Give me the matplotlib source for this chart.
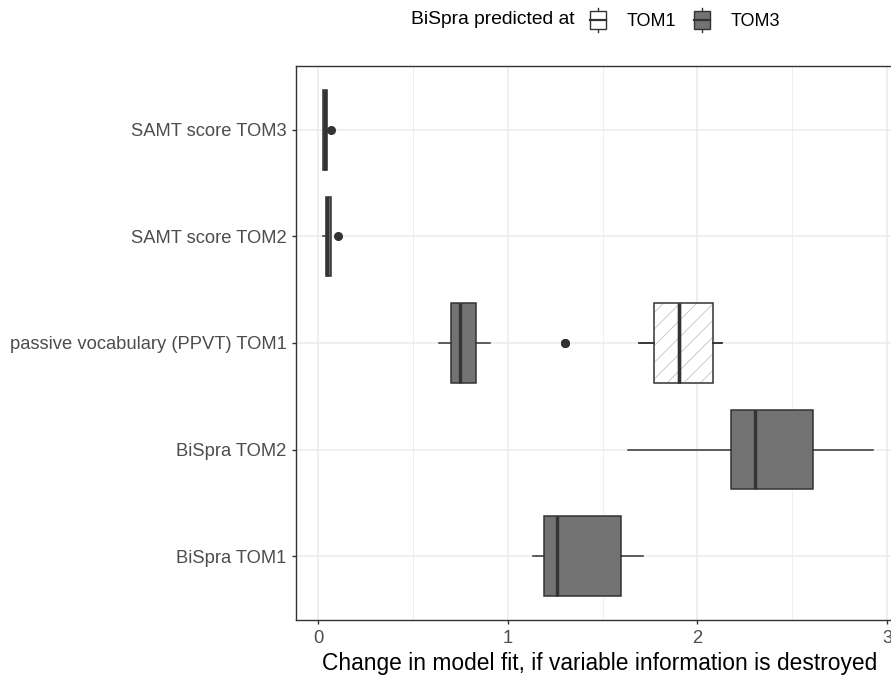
import numpy as np
import matplotlib
matplotlib.use('Agg')
import matplotlib.pyplot as plt
from matplotlib.legend_handler import HandlerBase
from matplotlib.patches import Rectangle, Patch
from matplotlib.lines import Line2D

plt.rcParams['font.family'] = ['Liberation Sans', 'DejaVu Sans']
plt.rcParams['hatch.linewidth'] = 0.55

# data
categories = ['BiSpra TOM1', 'BiSpra TOM2', 'passive vocabulary (PPVT) TOM1',
              'SAMT score TOM2', 'SAMT score TOM3']

# predicted at TOM3 (dark boxes), one per category
tom3_pos = [1, 2, 3, 4, 5]
tom3_whislo = [1.135, 1.636, 0.640, 0.028, 0.027]
tom3_q1 = [1.190, 2.175, 0.701, 0.042, 0.028]
tom3_med = [1.258, 2.304, 0.749, 0.050, 0.036]
tom3_q3 = [1.597, 2.609, 0.831, 0.066, 0.049]
tom3_whishi = [1.715, 2.924, 0.907, 0.070, 0.050]
tom3_fliers = [[], [], [], [0.103], [0.067]]

# predicted at TOM1 (hatched box), only the PPVT row
tom1_pos = [3]
tom1_whislo = [1.692]
tom1_q1 = [1.773]
tom1_med = [1.901]
tom1_q3 = [2.081]
tom1_whishi = [2.128]
tom1_fliers = [[1.302]]

x_ticks = [0, 1, 2, 3]
x_minor = [0.5, 1.5, 2.5]

DARK = '#737373'
LINE = '#333333'


def make_stats(lo, q1, med, q3, hi, fl):
    out = []
    for i in range(len(med)):
        out.append({'whislo': lo[i], 'q1': q1[i], 'med': med[i], 'q3': q3[i],
                    'whishi': hi[i], 'fliers': fl[i]})
    return out


class BoxKey(HandlerBase):
    def __init__(self, face):
        super().__init__()
        self.face = face

    def create_artists(self, legend, orig_handle, xdescent, ydescent,
                       width, height, fontsize, trans):
        x0 = -xdescent
        y0 = -ydescent
        bw = width * 0.9
        bh = height * 0.71
        bx = x0 + (width - bw) / 2
        by = y0 + (height - bh) / 2
        cx = x0 + width / 2
        cy = y0 + height / 2
        vl = Line2D([cx, cx], [y0, y0 + height], color=LINE, lw=1.0, transform=trans)
        r = Rectangle((bx, by), bw, bh, facecolor=self.face, edgecolor=LINE,
                      lw=1.0, transform=trans)
        hl = Line2D([bx, bx + bw], [cy, cy], color=LINE, lw=1.6, transform=trans)
        return [vl, r, hl]


fig = plt.figure(figsize=(8.91, 6.77), dpi=100)
ax = fig.add_axes([296 / 891, 57 / 677, 608 / 891, 554 / 677])

common = dict(orientation='horizontal', widths=0.75, showcaps=False,
              patch_artist=True, manage_ticks=False,
              whiskerprops=dict(color=LINE, lw=1.1),
              medianprops=dict(color=LINE, lw=2.4),
              flierprops=dict(marker='o', markerfacecolor=LINE,
                              markeredgecolor=LINE, markersize=5.5))

s3 = make_stats(tom3_whislo, tom3_q1, tom3_med, tom3_q3, tom3_whishi, tom3_fliers)
ax.bxp(s3, positions=tom3_pos,
       boxprops=dict(facecolor=DARK, edgecolor=LINE, lw=1.1), **common)

s1 = make_stats(tom1_whislo, tom1_q1, tom1_med, tom1_q3, tom1_whishi, tom1_fliers)
hatched = ax.bxp(s1, positions=tom1_pos,
                 boxprops=dict(facecolor='white', edgecolor='#BDBDBD', lw=0),
                 **common)
for b in hatched['boxes']:
    b.set_hatch('//')
ax.bxp(s1, positions=tom1_pos,
       boxprops=dict(facecolor='none', edgecolor=LINE, lw=1.1), **common)

ax.set_xlim(-0.116, 3.089)
ax.set_ylim(0.4, 5.6)
ax.set_axisbelow(True)
ax.set_xticks(x_ticks)
ax.set_xticklabels([str(t) for t in x_ticks])
ax.set_xticks(x_minor, minor=True)
ax.set_yticks(tom3_pos)
ax.set_yticklabels(categories)
ax.grid(True, which='major', color='#EBEBEB', lw=1.1)
ax.grid(True, which='minor', axis='x', color='#EBEBEB', lw=0.55)
ax.tick_params(axis='both', which='major', length=3, width=1.0, color=LINE,
               labelsize=13.2, labelcolor='#4D4D4D', pad=4)
ax.tick_params(axis='x', which='minor', length=0)
for s in ax.spines.values():
    s.set_color(LINE)
    s.set_linewidth(1.0)

ax.set_xlabel('Change in model fit, if variable information is destroyed',
              fontsize=16.4, color='black', labelpad=4)

fig.text(411 / 891, 1 - 20 / 677, 'BiSpra predicted at', fontsize=13.9,
         ha='left', va='center')
h1 = Patch(facecolor='white')
h2 = Patch(facecolor=DARK)
fig.legend([h1, h2], ['TOM1', 'TOM3'], ncol=2, loc='center left',
           bbox_to_anchor=(589 / 891, 1 - 20 / 677), frameon=False,
           fontsize=13, handlelength=1.0, handleheight=1.67, handletextpad=1.1,
           columnspacing=0.9, borderpad=0, borderaxespad=0,
           handler_map={h1: BoxKey('white'), h2: BoxKey(DARK)})

fig.savefig('out.png', dpi=100)
